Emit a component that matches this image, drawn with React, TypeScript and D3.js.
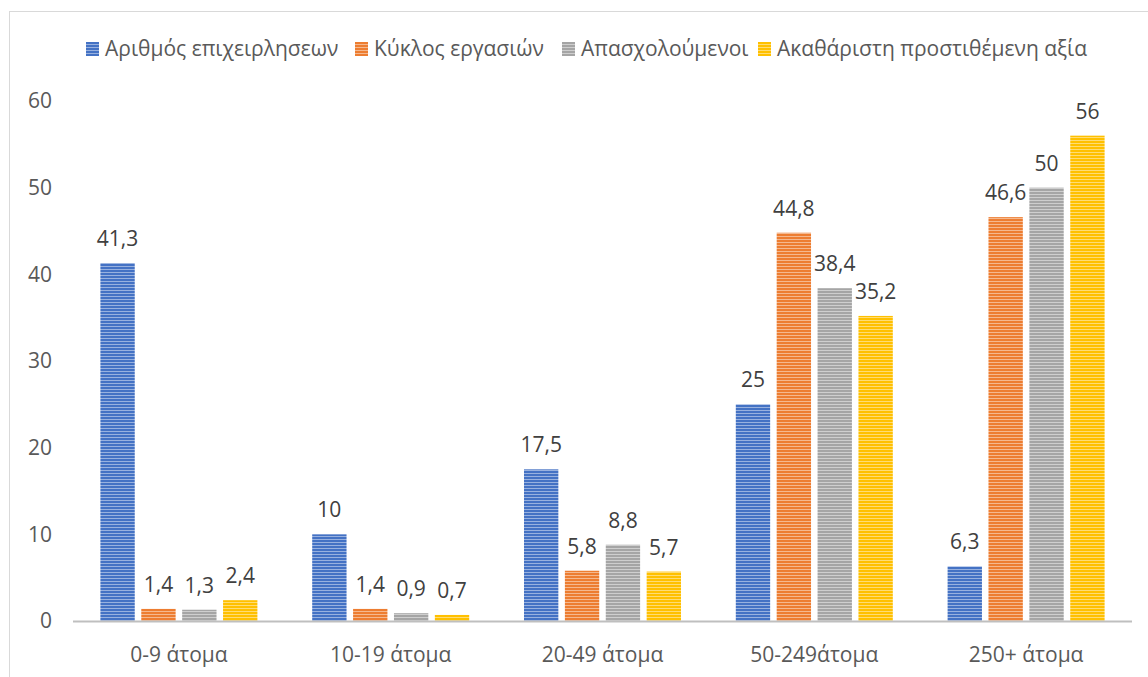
import React from 'react'
import * as d3 from 'd3'

const categories = ['0-9 άτομα', '10-19 άτομα', '20-49 άτομα', '50-249άτομα', '250+ άτομα']
const seriesNames = ['Αριθμός επιχειρλησεων', 'Κύκλος εργασιών', 'Απασχολούμενοι', 'Ακαθάριστη προστιθέμενη αξία']
const firms = [41.3, 10, 17.5, 25, 6.3]
const turnover = [1.4, 1.4, 5.8, 44.8, 46.6]
const employed = [1.3, 0.9, 8.8, 38.4, 50]
const grossValue = [2.4, 0.7, 5.7, 35.2, 56]
const yTicks = [0, 10, 20, 30, 40, 50, 60]

const seriesValues = [firms, turnover, employed, grossValue]
const colors = ['#4472C4', '#ED7D31', '#A5A5A5', '#FFC000']

const W = 1148
const H = 677
// plot area
const left = 73
const right = 1132
const top = 101
const bottom = 621

const font = '"Open Sans", sans-serif'
const fs = 21

export default function App() {
  const x0 = d3.scaleBand<string>().domain(categories).range([left, right])
  const cw = x0.bandwidth()
  const outer = (cw - 157) / 2
  const x1 = d3.scaleBand<number>()
    .domain(d3.range(seriesNames.length))
    .range([outer, cw - outer])
    .paddingInner(0.16)
  const y = d3.scaleLinear().domain([0, 60]).range([bottom, top])

  const fmt = (v: number) => String(v).replace('.', ',')
  const lighten = (c: string) => d3.interpolateRgb(c, '#ffffff')(0.45)

  // legend positions (square x)
  const legendX = [86, 355, 562, 758]

  return (
    <svg width={W} height={H} style={{ position: 'absolute', left: 0, top: 0 }} fontFamily={font}>
      <defs>
        {colors.map((c, i) => (
          <pattern key={i} id={`stripe${i}`} width={6} height={3} patternUnits="userSpaceOnUse">
            <rect width={6} height={3} fill={lighten(c)} />
            <rect width={6} height={2} fill={c} />
          </pattern>
        ))}
      </defs>
      <rect x={0} y={0} width={W} height={H} fill="#fff" />
      <rect x={9.5} y={11.5} width={W + 20} height={H + 20} fill="none" stroke="#d9d9d9" strokeWidth={1} />

      {/* legend */}
      {seriesNames.map((s, i) => (
        <g key={s} transform={`translate(${legendX[i]},42)`}>
          <rect width={13} height={14} fill={`url(#stripe${i})`} />
          <text x={19} y={14} fontSize={fs} fill="#595959">{s}</text>
        </g>
      ))}

      {/* y tick labels */}
      {yTicks.map(t => (
        <text key={t} x={52} y={y(t)} dy="0.35em" textAnchor="end" fontSize={fs} fill="#595959">{t}</text>
      ))}

      {/* bars */}
      {categories.map((c, ci) => (
        <g key={c} transform={`translate(${x0(c)},0)`}>
          {seriesValues.map((vals, si) => {
            const v = vals[ci]
            const bx = x1(si) as number
            return (
              <g key={si}>
                <rect x={bx} y={y(v)} width={x1.bandwidth()} height={bottom - y(v)} fill={`url(#stripe${si})`} />
                <text x={bx + x1.bandwidth() / 2} y={y(v) - 17} textAnchor="middle" fontSize={fs} fill="#404040">{fmt(v)}</text>
              </g>
            )
          })}
          <text x={cw / 2} y={662} textAnchor="middle" fontSize={fs} fill="#595959">{c}</text>
        </g>
      ))}

      {/* baseline */}
      <line x1={left} x2={right} y1={bottom + 0.5} y2={bottom + 0.5} stroke="#bfbfbf" strokeWidth={2} />
    </svg>
  )
}
